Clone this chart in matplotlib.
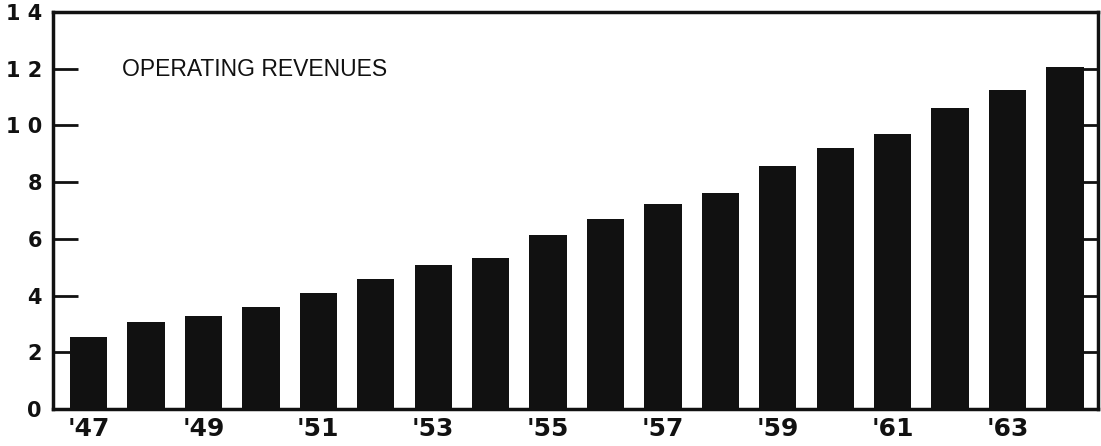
import numpy as np
import matplotlib.pyplot as plt

years = list(range(1947, 1965))
revenues = [2.55, 3.08, 3.28, 3.61, 4.08, 4.57, 5.08, 5.31, 6.14, 6.70,
            7.23, 7.63, 8.57, 9.19, 9.69, 10.62, 11.25, 12.07]
year_labels = ["'47", "'49", "'51", "'53", "'55", "'57", "'59", "'61", "'63"]
y_ticks = [0, 2, 4, 6, 8, 10, 12, 14]
y_labels = ["0", "2", "4", "6", "8", "1 0", "1 2", "1 4"]
title = "OPERATING REVENUES"

fig = plt.figure(figsize=(11.01, 4.46), dpi=100)
ax = fig.add_axes([53 / 1101, 1 - 409 / 446, (1098 - 53) / 1101, (409 - 12) / 446])

x = np.arange(len(years))
ax.bar(x, revenues, width=0.65, color='#111111', edgecolor='none')

ax.set_xlim(-0.62, len(years) - 1 + 0.575)
ax.set_ylim(0, 14)

ax.set_xticks(x[::2])
ax.set_xticklabels(year_labels, fontsize=18, fontweight='bold', color='#111111')
ax.tick_params(axis='x', length=0, pad=6)

ax.set_yticks(y_ticks)
ax.set_yticklabels(y_labels, fontsize=15, fontweight='bold', color='#111111')
ax.tick_params(axis='y', direction='in', length=18, width=2, pad=8,
               left=True, right=True, color='#111111')
for t in ax.yaxis.get_major_ticks():
    t.tick2line.set_markersize(13)
# no marks at the corners
for t, v in zip(ax.yaxis.get_major_ticks(), y_ticks):
    if v in (0, 14):
        t.tick1line.set_visible(False)
        t.tick2line.set_visible(False)

for s in ax.spines.values():
    s.set_linewidth(2.5)
    s.set_color('#111111')

ax.text(0.066, 0.855, title, transform=ax.transAxes, fontsize=16.5,
        family='Liberation Sans', color='#111111', va='center', ha='left')

fig.savefig('out.png', dpi=100)
